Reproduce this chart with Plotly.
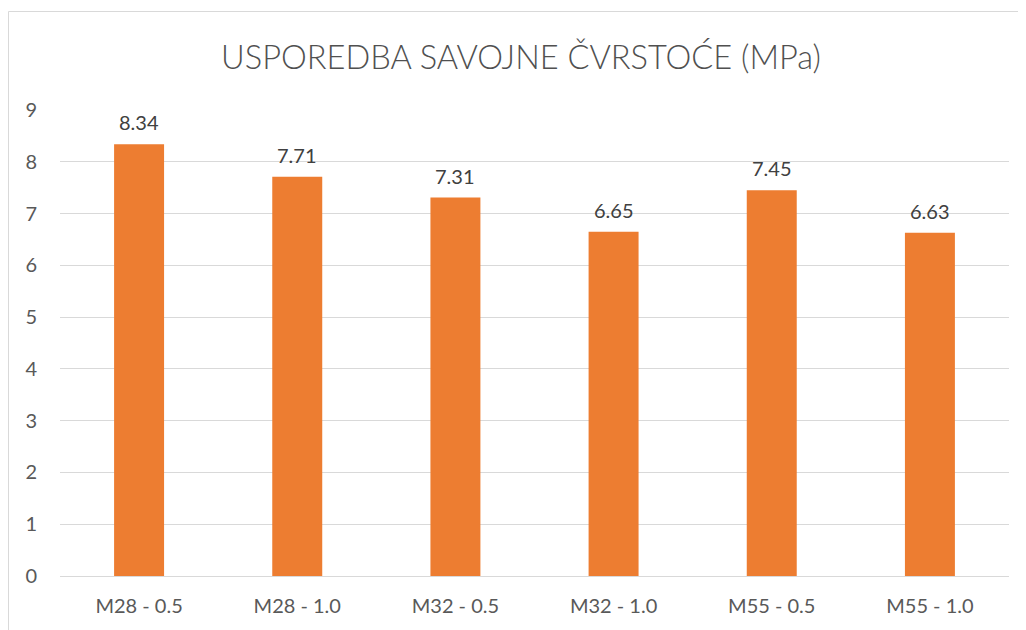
import plotly.graph_objects as go

categories = ["M28 - 0.5", "M28 - 1.0", "M32 - 0.5", "M32 - 1.0", "M55 - 0.5", "M55 - 1.0"]
values = [8.34, 7.71, 7.31, 6.65, 7.45, 6.63]
y_ticks = [0, 1, 2, 3, 4, 5, 6, 7, 8, 9]
title_text = "USPOREDBA SAVOJNE ČVRSTOĆE (MPa)"

FONT = "Lato, Open Sans, sans-serif"
TXT = "#595959"

# page body has an 8px margin: figure sits at (8,8) in the viewport
OFF = 8
W, H = 1026 - OFF, 630 - OFF
PX0, PX1, PY0, PY1 = 60 - OFF, 1009 - OFF, 110 - OFF, 576 - OFF
L, R, T, B = PX0, W - PX1, PY0, H - PY1
pw, ph = PX1 - PX0, PY1 - PY0

def px_x(p):
    return (p - L) / pw

def px_y(p):
    return (H - B - p) / ph

fig = go.Figure(go.Bar(
    x=categories, y=values,
    marker=dict(color="#ED7D31", line=dict(width=0)),
    width=0.316,
))

for c, v in zip(categories, values):
    fig.add_annotation(x=c, y=v, text=f"{v:.2f}", showarrow=False, yanchor="bottom",
                       yshift=8, font=dict(size=20, color="#404040", family=FONT))

fig.add_shape(type="rect", xref="paper", yref="paper",
              x0=px_x(0.5), x1=px_x(1100), y0=px_y(700), y1=px_y(11.5 - OFF),
              line=dict(color="#D9D9D9", width=1), fillcolor="rgba(0,0,0,0)", layer="below")

fig.update_layout(
    width=W, height=H,
    margin=dict(l=L, r=R, t=T, b=B),
    paper_bgcolor="white", plot_bgcolor="white",
    title=dict(text=title_text, x=(521 - OFF) / W, xanchor="center", y=1 - (58 - OFF) / H, yanchor="middle",
               font=dict(size=32.6, color="#505050", family=FONT, weight=300)),
    showlegend=False,
    xaxis=dict(showgrid=False, showline=False, ticks="", tickfont=dict(size=20, color=TXT, family=FONT),
               ticklabelstandoff=16),
    yaxis=dict(range=[0, 9], tickvals=y_ticks, showgrid=True, gridcolor="#D9D9D9", gridwidth=1,
               zeroline=True, zerolinecolor="#D9D9D9", zerolinewidth=1, showline=False, ticks="",
               tickfont=dict(size=20, color=TXT, family=FONT), ticklabelstandoff=22),
    font=dict(family=FONT),
)

fig.write_html("out.html")
